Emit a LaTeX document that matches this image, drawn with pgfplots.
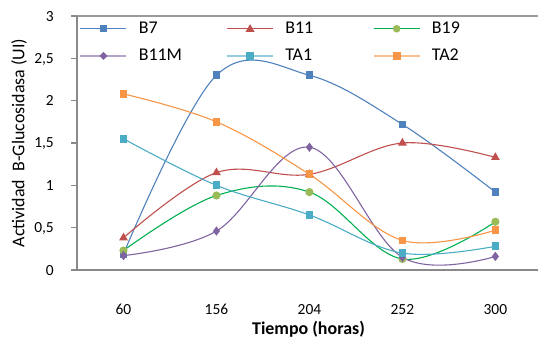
\documentclass[border=0pt]{standalone}
\usepackage{pgfplots}
\pgfplotsset{compat=1.18}
\usepackage{fontspec}
\setmainfont{Carlito}
\definecolor{cB7}{HTML}{4F81BD}
\definecolor{cB11}{HTML}{C0504D}
\definecolor{cB19}{HTML}{00B050}
\definecolor{cB19m}{HTML}{9BBB59}
\definecolor{cB11M}{HTML}{8064A2}
\definecolor{cB11Ml}{HTML}{B3A2C7}
\definecolor{cTA1}{HTML}{4BACC6}
\definecolor{cTA1l}{HTML}{93CDDD}
\definecolor{cTA2}{HTML}{F79646}
\definecolor{cTA2l}{HTML}{FAC090}
\definecolor{axgray}{HTML}{898989}
\definecolor{topgray}{HTML}{9A9A9A}
\begin{document}
\begin{tikzpicture}
\useasboundingbox (0bp,0bp) rectangle (538bp,339bp);
\draw[topgray, line width=1.8bp] (77bp,323bp) -- (538bp,323bp);
\begin{axis}[
  at={(77bp,69bp)}, anchor=south west,
  scale only axis, width=463bp, height=254bp,
  xmin=-0.5, xmax=4.48, ymin=0, ymax=3, clip=false,
  axis x line*=bottom, axis y line*=left,
  xtick={0,1,2,3,4}, xticklabels={60,156,204,252,300},
  major x tick style={draw=none},
  extra x ticks={-0.5}, extra x tick labels={},
  extra x tick style={major tick length=6bp, tick style={axgray, line width=1.5bp}},
  ytick={0,0.5,1,1.5,2,2.5,3}, yticklabels={0,{0,5},1,{1,5},2,{2,5},3},
  tick align=outside, major tick length=6bp,
  major y tick style={axgray, line width=1.5bp},
  axis line style={axgray, line width=1.8bp, -},
  every tick label/.append style={font=\fontsize{15.5}{18}\selectfont},
  yticklabel style={inner sep=0pt, anchor=east, text depth=0pt, xshift=-17bp},
  xticklabel style={anchor=base, inner sep=0pt, yshift=-38bp},
  ylabel={Actividad\ \ B-Glucosidasa (UI)},
  xlabel={Tiempo (horas)},
  every axis y label/.style={at={(axis description cs:-0.125,0.5)}, rotate=90, anchor=center, font=\fontsize{18}{20}\selectfont},
  every axis x label/.style={at={(axis description cs:0.5,-0.252)}, anchor=base, font=\fontsize{18}{20}\selectfont\bfseries},
  legend columns=3,
  legend cell align=left,
  legend style={draw=none, fill=none, at={(axis description cs:0,1)}, anchor=north west,
    xshift=-1bp, yshift=-4bp, font=\fontsize{18}{20}\selectfont,
    column sep=0pt, row sep=14bp, nodes={inner sep=0pt},
    /tikz/every odd column/.append style={column sep=11bp}},
  every axis plot/.append style={line width=1.1bp, smooth, tension=0.6},
]
\addplot[forget plot, cB7, mark=square*, mark size=3.3bp, mark options={fill=cB7}] coordinates {(0,0.19) (1,2.30) (2,2.30) (3,1.72) (4,0.92)};
\addplot[forget plot, cB11, mark=triangle*, mark size=4bp, mark options={fill=cB11}] coordinates {(0,0.38) (1,1.15) (2,1.13) (3,1.50) (4,1.33)};
\addplot[forget plot, cB19, mark=*, mark size=3.5bp, mark options={fill=cB19m, draw=cB19m}] coordinates {(0,0.23) (1,0.88) (2,0.92) (3,0.13) (4,0.57)};
\addplot[forget plot, cB11M, mark=diamond*, mark size=3.8bp, mark options={fill=cB11M}] coordinates {(0,0.17) (1,0.46) (2,1.45) (3,0.15) (4,0.16)};
\addplot[forget plot, cTA1, mark=square*, mark size=3.3bp, mark options={fill=cTA1}] coordinates {(0,1.55) (1,1.00) (2,0.65) (3,0.20) (4,0.28)};
\addplot[forget plot, cTA2, mark=square*, mark size=3.3bp, mark options={fill=cTA2}] coordinates {(0,2.08) (1,1.75) (2,1.13) (3,0.35) (4,0.47)};
\addlegendimage{legend image code/.code={\draw[line width=1.1bp, draw=cB7] (0bp,0bp)--(46bp,0bp); \fill[cB7] (20bp,-2.8bp) rectangle (25.6bp,2.8bp);}}
\addlegendentry{\makebox[87bp][l]{B7}}
\addlegendimage{legend image code/.code={\draw[line width=1.1bp, draw=cB11] (0bp,0bp)--(46bp,0bp); \fill[cB11] (19.5bp,-2.5bp) -- (26.5bp,-2.5bp) -- (23bp,3.5bp) -- cycle;}}
\addlegendentry{\makebox[87bp][l]{B11}}
\addlegendimage{legend image code/.code={\draw[line width=1.1bp, draw=cB19] (0bp,0bp)--(46bp,0bp); \fill[cB19m] (23bp,0bp) circle (3.2bp);}}
\addlegendentry{\makebox[87bp][l]{B19}}
\addlegendimage{legend image code/.code={\draw[line width=2.6bp, draw=cB11Ml] (0bp,0bp)--(46bp,0bp); \fill[cB11M] (19.8bp,0bp) -- (23bp,3.2bp) -- (26.2bp,0bp) -- (23bp,-3.2bp) -- cycle;}}
\addlegendentry{\makebox[87bp][l]{B11M}}
\addlegendimage{legend image code/.code={\draw[line width=2.6bp, draw=cTA1l] (0bp,0bp)--(46bp,0bp); \fill[cTA1] (19.5bp,-3.3bp) rectangle (26.5bp,3.3bp);}}
\addlegendentry{\makebox[87bp][l]{TA1}}
\addlegendimage{legend image code/.code={\draw[line width=2.6bp, draw=cTA2l] (0bp,0bp)--(46bp,0bp); \fill[cTA2] (19.5bp,-3.3bp) rectangle (26.5bp,3.3bp);}}
\addlegendentry{\makebox[87bp][l]{TA2}}
\end{axis}
\end{tikzpicture}
\end{document}
